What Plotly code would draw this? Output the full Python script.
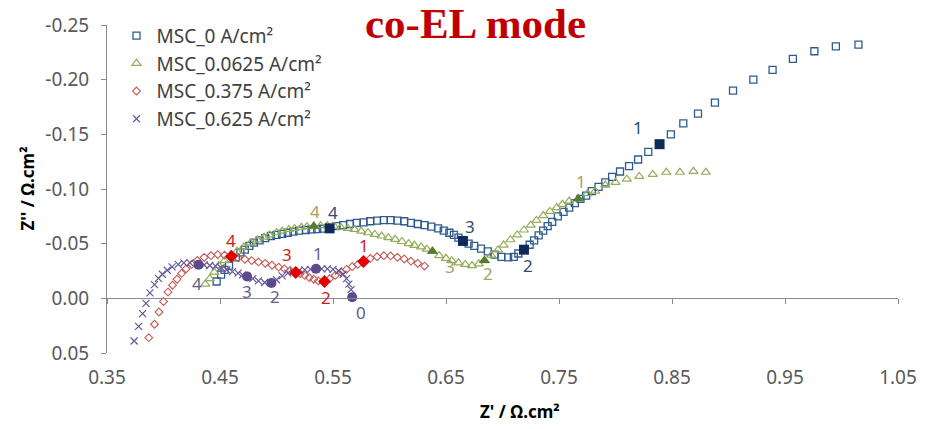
import plotly.graph_objects as go

# Nyquist spectra of the MSC cell in co-electrolysis mode.
# Z' (real part) and Z'' (imaginary part), both in ohm·cm².

msc0_zr = [0.447, 0.451, 0.454, 0.458, 0.464, 0.468, 0.472, 0.476, 0.480, 0.485,
           0.490, 0.495, 0.500, 0.505, 0.510, 0.515, 0.520, 0.526, 0.531, 0.536,
           0.541, 0.547, 0.553, 0.559, 0.565, 0.571, 0.577, 0.583, 0.589, 0.595,
           0.601, 0.607, 0.613, 0.619, 0.625, 0.631, 0.637, 0.643, 0.648, 0.653,
           0.657, 0.661, 0.665, 0.670, 0.675, 0.681, 0.687, 0.693, 0.699, 0.705,
           0.710, 0.714, 0.719, 0.724, 0.728, 0.732, 0.736, 0.740, 0.744, 0.749,
           0.754, 0.759, 0.764, 0.769, 0.774, 0.779, 0.785, 0.791, 0.797, 0.804,
           0.812, 0.820, 0.829, 0.839, 0.849, 0.860, 0.873, 0.888, 0.904, 0.922,
           0.939, 0.957, 0.976, 0.995, 1.015]
msc0_zi = [-0.0154, -0.0216, -0.026, -0.030, -0.0375, -0.042, -0.0445, -0.048, -0.051, -0.053,
           -0.055, -0.057, -0.058, -0.059, -0.060, -0.061, -0.062, -0.0625, -0.063, -0.0633,
           -0.0637, -0.064, -0.066, -0.067, -0.068, -0.069, -0.0695, -0.0705, -0.071, -0.0715,
           -0.0715, -0.071, -0.0705, -0.069, -0.068, -0.067, -0.0655, -0.064, -0.062, -0.060,
           -0.058, -0.0555, -0.0525, -0.050, -0.048, -0.0455, -0.043, -0.040, -0.038, -0.0375,
           -0.038, -0.041, -0.0445, -0.049, -0.053, -0.0575, -0.062, -0.066, -0.070, -0.075,
           -0.079, -0.083, -0.087, -0.091, -0.094, -0.098, -0.102, -0.106, -0.111, -0.116,
           -0.121, -0.127, -0.134, -0.141, -0.150, -0.160, -0.169, -0.179, -0.190, -0.200,
           -0.209, -0.219, -0.226, -0.2305, -0.232]

msc00625_zr = [0.437, 0.441, 0.445, 0.449, 0.454, 0.4595, 0.465, 0.471, 0.477, 0.483,
               0.489, 0.494, 0.500, 0.505, 0.511, 0.516, 0.522, 0.527, 0.533, 0.539,
               0.545, 0.551, 0.557, 0.563, 0.569, 0.575, 0.581, 0.587, 0.593, 0.599,
               0.605, 0.611, 0.617, 0.622, 0.628, 0.633, 0.638, 0.644, 0.650, 0.655,
               0.661, 0.667, 0.673, 0.679, 0.684, 0.690, 0.696, 0.701, 0.707, 0.713,
               0.719, 0.725, 0.730, 0.736, 0.742, 0.748, 0.753, 0.759, 0.767, 0.775,
               0.782, 0.791, 0.800, 0.810, 0.821, 0.833, 0.845, 0.857, 0.869, 0.880]
msc00625_zi = [-0.013, -0.018, -0.024, -0.030, -0.0345, -0.039, -0.043, -0.047, -0.0507, -0.0535,
               -0.056, -0.058, -0.060, -0.0615, -0.063, -0.064, -0.065, -0.0655, -0.066, -0.0665,
               -0.0665, -0.066, -0.065, -0.064, -0.063, -0.0615, -0.060, -0.0585, -0.057, -0.0555,
               -0.054, -0.052, -0.050, -0.0485, -0.047, -0.045, -0.043, -0.039, -0.0366, -0.0345,
               -0.0325, -0.031, -0.030, -0.0316, -0.0345, -0.0395, -0.0443, -0.0487, -0.0536, -0.058,
               -0.0625, -0.0669, -0.0713, -0.0757, -0.0795, -0.083, -0.086, -0.089, -0.091, -0.0957,
               -0.098, -0.1036, -0.106, -0.109, -0.1115, -0.1133, -0.1153, -0.1153, -0.1162, -0.1153]

msc0375_zr = [0.387, 0.392, 0.396, 0.400, 0.404, 0.408, 0.412, 0.416, 0.420, 0.425,
              0.430, 0.436, 0.442, 0.448, 0.454, 0.460, 0.466, 0.472, 0.478, 0.484,
              0.490, 0.496, 0.502, 0.507, 0.512, 0.517, 0.521, 0.525, 0.529, 0.533,
              0.537, 0.5425, 0.547, 0.552, 0.557, 0.562, 0.567, 0.572, 0.577, 0.583,
              0.589, 0.595, 0.601, 0.607, 0.613, 0.619, 0.625, 0.631]
msc0375_zi = [0.036, 0.0237, 0.0125, 0.003, -0.0057, -0.012, -0.0175, -0.0228, -0.027, -0.031,
              -0.0346, -0.0375, -0.039, -0.040, -0.0395, -0.0384, -0.037, -0.0357, -0.0345, -0.0333,
              -0.032, -0.0303, -0.0285, -0.027, -0.0255, -0.0237, -0.0225, -0.021, -0.019, -0.0175,
              -0.016, -0.0155, -0.018, -0.021, -0.024, -0.0265, -0.029, -0.031, -0.0337, -0.0365,
              -0.038, -0.039, -0.0388, -0.0375, -0.036, -0.034, -0.032, -0.0295]

msc0625_zr = [0.374, 0.378, 0.3815, 0.3845, 0.388, 0.392, 0.3955, 0.399, 0.4033, 0.4076,
              0.413, 0.418, 0.4235, 0.431, 0.436, 0.441, 0.446, 0.451, 0.456, 0.461,
              0.466, 0.470, 0.474, 0.479, 0.484, 0.4895, 0.4955, 0.500, 0.505, 0.510,
              0.515, 0.520, 0.525, 0.530, 0.535, 0.540, 0.545, 0.550, 0.555, 0.559,
              0.562, 0.564, 0.566, 0.567]
msc0625_zi = [0.039, 0.0257, 0.014, 0.0046, -0.005, -0.0125, -0.0183, -0.022, -0.0257, -0.0287,
              -0.031, -0.0325, -0.0325, -0.0307, -0.0305, -0.030, -0.0295, -0.028, -0.026, -0.0245,
              -0.023, -0.0215, -0.020, -0.018, -0.016, -0.0145, -0.014, -0.017, -0.0205, -0.023,
              -0.0245, -0.0255, -0.026, -0.0265, -0.027, -0.027, -0.027, -0.0265, -0.025, -0.022,
              -0.018, -0.013, -0.008, -0.001]

# Frequency-decade markers: (label, Z' of the marked point)
msc0_marks = [("4", 0.547), ("3", 0.665), ("2", 0.719), ("1", 0.839)]
msc00625_marks = [("4", 0.533), ("3", 0.638), ("2", 0.684), ("1", 0.767)]
msc0375_marks = [("4", 0.460), ("3", 0.517), ("2", 0.5425), ("1", 0.577)]
msc0625_marks = [("4", 0.431), ("3", 0.474), ("2", 0.4955), ("1", 0.535), ("0", 0.567)]

series_names = ["MSC_0 A/cm²", "MSC_0.0625 A/cm²", "MSC_0.375 A/cm²", "MSC_0.625 A/cm²"]

x_tickvals = [0.35, 0.45, 0.55, 0.65, 0.75, 0.85, 0.95, 1.05]
x_ticktext = ["0.35", "0.45", "0.55", "0.65", "0.75", "0.85", "0.95", "1.05"]
y_tickvals = [-0.25, -0.20, -0.15, -0.10, -0.05, 0.00, 0.05]
y_ticktext = ["-0.25", "-0.20", "-0.15", "-0.10", "-0.05", "0.00", "0.05"]

X_RANGE = [0.35, 1.05]
Y_RANGE = [0.05, -0.25]   # Z'' axis runs negative upward

TICK_FONT = dict(family="Noto Sans", size=19, color="#595959")
AXIS_GREY = "#898989"

# series styling: open symbol, colour, size, filled decade marker, label colour, label offsets (px)
styles = [
    dict(sym="square-open", col="#2F5C8F", size=7, lw=1.3,
         fsym="square", fcol="#0E2A5C", lcol="#2B4C6F",
         off={"4": (3, -16), "3": (7, -14), "2": (4, 16), "1": (-22, -17)}),
    dict(sym="triangle-up-open", col="#93AD5B", size=8, lw=1.2,
         fsym="triangle-up", fcol="#567D2E", lcol="#A3A35F",
         off={"4": (1, -15), "3": (18, 15), "2": (4, 13), "1": (3, -17)}),
    dict(sym="diamond-open", col="#C45A55", size=6, lw=1.1,
         fsym="diamond", fcol="#E00000", lcol="#C81E1E",
         off={"4": (0, -16), "3": (-9, -18), "2": (1, 16), "1": (0, -16)}),
    dict(sym="x-thin", col="#66579A", size=7, lw=1.2,
         fsym="circle", fcol="#5B4A8C", lcol="#62608A",
         off={"4": (-2, 19), "3": (0, 15), "2": (4, 13), "1": (2, -15), "0": (9, 15)}),
]

data = [
    (msc0_zr, msc0_zi, msc0_marks),
    (msc00625_zr, msc00625_zi, msc00625_marks),
    (msc0375_zr, msc0375_zi, msc0375_marks),
    (msc0625_zr, msc0625_zi, msc0625_marks),
]

fig = go.Figure()

for name, (zr, zi, _), st in zip(series_names, data, styles):
    fig.add_trace(go.Scatter(
        x=zr, y=zi, mode="markers", name=name,
        marker=dict(symbol=st["sym"], size=st["size"], color=st["col"],
                    line=dict(color=st["col"], width=st["lw"])),
    ))

annotations = []
for (zr, zi, marks), st in zip(data, styles):
    idx = [min(range(len(zr)), key=lambda i: abs(zr[i] - v)) for _, v in marks]
    fig.add_trace(go.Scatter(
        x=[zr[i] for i in idx], y=[zi[i] for i in idx], mode="markers",
        showlegend=False, hoverinfo="skip",
        marker=dict(symbol=st["fsym"], size=10, color=st["fcol"],
                    line=dict(width=0)),
    ))
    for (lab, _), i in zip(marks, idx):
        dx, dy = st["off"][lab]
        annotations.append(dict(
            x=zr[i], y=zi[i], xref="x", yref="y", text=lab, showarrow=False,
            xshift=dx, yshift=-dy,
            font=dict(family="Noto Sans", size=17, color=st["lcol"]),
        ))

# carrier trace for the axis drawn along Z'' = 0
fig.add_trace(go.Scatter(x=[None], y=[None], xaxis="x2", showlegend=False,
                         hoverinfo="skip"))

zero_pos = (Y_RANGE[0] - 0.0) / (Y_RANGE[0] - Y_RANGE[1])

annotations += [
    dict(text="<b>co-EL mode</b>", x=0.4655, y=1.006, xref="paper", yref="paper",
         showarrow=False, xanchor="center", yanchor="middle",
         font=dict(family="Liberation Serif", size=43, color="#C00000")),
    dict(text="<b>Z' / Ω.cm²</b>", x=0.522, y=-0.177, xref="paper", yref="paper",
         showarrow=False, xanchor="center", yanchor="middle",
         font=dict(family="Noto Sans", size=17, color="#000000")),
    dict(text="<b>Z'' / Ω.cm²</b>", x=-0.101, y=0.5015, xref="paper", yref="paper",
         showarrow=False, xanchor="center", yanchor="middle", textangle=-90,
         font=dict(family="Noto Sans", size=17, color="#000000")),
    dict(text="<b>for model with field</b>", x=0.0, y=-0.281,
         xref="paper", yref="paper", showarrow=False,
         xanchor="left", yanchor="middle", xshift=-72,
         font=dict(family="Liberation Serif", size=40, color="#FF0000")),
]

fig.update_layout(
    width=929, height=429,
    margin=dict(l=107, r=15, t=14, b=76),
    paper_bgcolor="white", plot_bgcolor="white",
    showlegend=True,
    legend=dict(x=0.012, y=1.025, xanchor="left", yanchor="top",
                bgcolor="rgba(0,0,0,0)", borderwidth=0, tracegroupgap=0,
                font=dict(family="Noto Sans", size=19, color="#404040")),
    xaxis=dict(range=X_RANGE, tickvals=x_tickvals, ticktext=x_ticktext,
               showgrid=False, zeroline=False, showline=False, ticks="",
               ticklabelstandoff=11, ticklabeloverflow="allow", tickfont=TICK_FONT),
    xaxis2=dict(range=X_RANGE, tickvals=x_tickvals, overlaying="x",
                anchor="free", position=zero_pos, side="bottom",
                showgrid=False, zeroline=False, showline=True,
                linecolor=AXIS_GREY, linewidth=1,
                ticks="outside", ticklen=5, tickcolor=AXIS_GREY,
                showticklabels=False),
    yaxis=dict(range=Y_RANGE, tickvals=y_tickvals, ticktext=y_ticktext,
               showgrid=False, zeroline=False, showline=True,
               linecolor=AXIS_GREY, linewidth=1,
               ticks="outside", ticklen=5, tickcolor=AXIS_GREY,
               ticklabelstandoff=8, tickfont=TICK_FONT),
    annotations=annotations,
)

fig.write_html("out.html")
